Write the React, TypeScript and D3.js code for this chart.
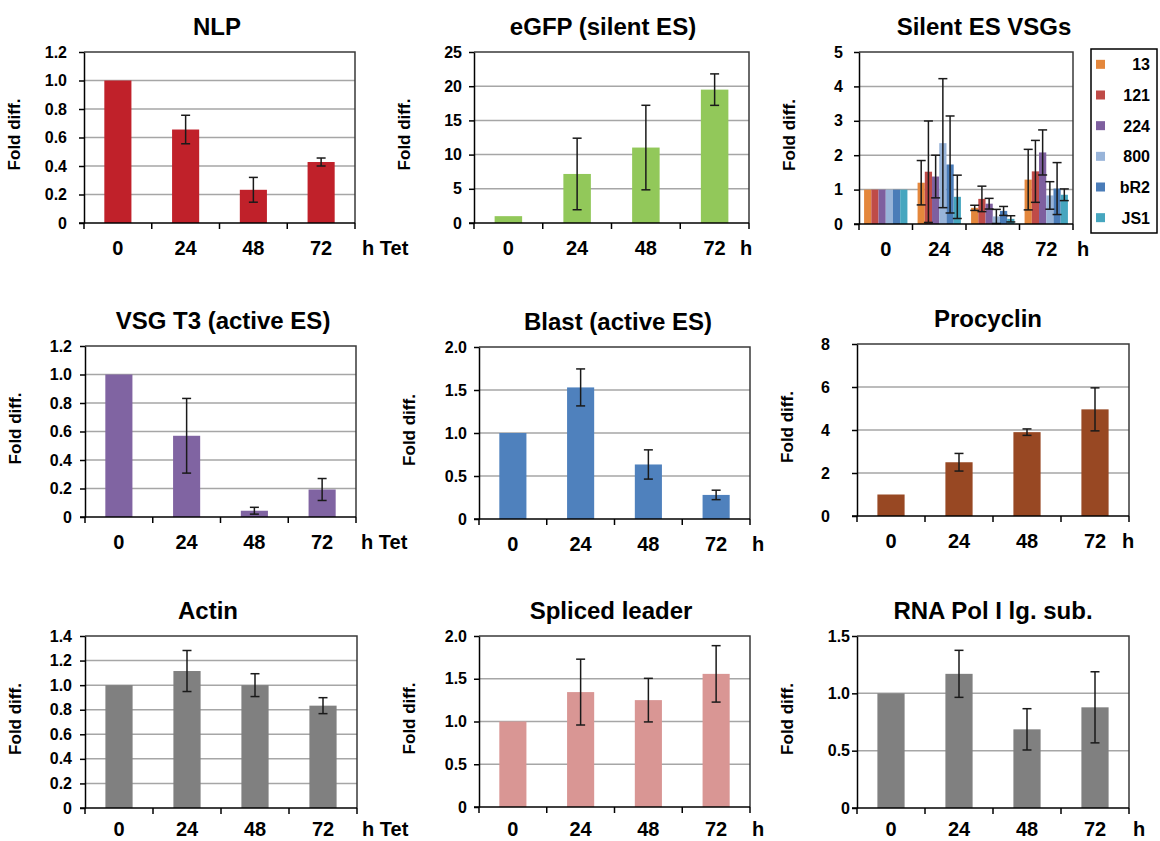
import React, { useEffect, useRef } from "react";
import * as d3 from "d3";

// hours after tet induction
const hours = ["0", "24", "48", "72"];

const nlpMean = [1.0, 0.656, 0.233, 0.428];
const nlpErr = [0, 0.1, 0.087, 0.028];

const egfpMean = [1.0, 7.17, 11.03, 19.5];
const egfpErr = [0, 5.23, 6.18, 2.3];

const t3Mean = [1.0, 0.57, 0.044, 0.193];
const t3Err = [0, 0.262, 0.024, 0.077];

const blastMean = [1.0, 1.53, 0.634, 0.28];
const blastErr = [0, 0.215, 0.17, 0.055];

const procMean = [1.0, 2.5, 3.9, 4.96];
const procErr = [0, 0.41, 0.15, 1.0];

const actinMean = [1.0, 1.115, 1.0, 0.833];
const actinErr = [0, 0.167, 0.093, 0.065];

const slMean = [1.0, 1.344, 1.25, 1.557];
const slErr = [0, 0.385, 0.255, 0.33];

const polMean = [1.0, 1.17, 0.686, 0.878];
const polErr = [0, 0.205, 0.18, 0.31];

// silent ES VSGs, one array per VSG
const vsgNames = ["13", "121", "224", "800", "bR2", "JS1"];
const vsgColors = ["#e4873c", "#bf4b48", "#7e5f9f", "#98b4d9", "#4a7cb8", "#46a6bf"];
const vsg13 = [1, 1.2, 0.47, 1.29];
const vsg13Err = [0, 0.645, 0.075, 0.88];
const vsg121 = [1, 1.52, 0.73, 1.53];
const vsg121Err = [0, 1.475, 0.37, 0.9];
const vsg224 = [1, 1.38, 0.59, 2.08];
const vsg224Err = [0, 0.62, 0.155, 0.655];
const vsg800 = [1, 2.35, 0.22, 0.83];
const vsg800Err = [0, 1.875, 0.205, 0.4];
const vsgbR2 = [1, 1.73, 0.38, 1.03];
const vsgbR2Err = [0, 1.41, 0.13, 0.755];
const vsgJS1 = [1, 0.79, 0.15, 0.85];
const vsgJS1Err = [0, 0.63, 0.09, 0.17];

const FONT = '"Liberation Sans", Arial, Helvetica, sans-serif';

const dec1 = (d: number) => (d === 0 ? "0" : d3.format(".1f")(d));
const int0 = (d: number) => d3.format("d")(d);

const panels = [
  { title: "NLP", series: [nlpMean], errs: [nlpErr], colors: ["#c0212a"], yMax: 1.2, step: 0.2, fmt: dec1,
    box: [84, 52, 271, 171], titleX: 217, unit: "h Tet", unitX: 362, gap: 12 },
  { title: "eGFP (silent ES)", series: [egfpMean], errs: [egfpErr], colors: ["#92c85a"], yMax: 25, step: 5, fmt: int0,
    box: [474, 52, 275, 171], titleX: 603, unit: "h", unitX: 740, gap: 7 },
  { title: "Silent ES VSGs", series: [vsg13, vsg121, vsg224, vsg800, vsgbR2, vsgJS1],
    errs: [vsg13Err, vsg121Err, vsg224Err, vsg800Err, vsgbR2Err, vsgJS1Err], colors: vsgColors,
    yMax: 5, step: 1, fmt: int0, box: [859, 52, 214, 172], titleX: 984, unit: "h", unitX: 1077, gap: 11 },
  { title: "VSG T3 (active ES)", series: [t3Mean], errs: [t3Err], colors: ["#8064a2"], yMax: 1.2, step: 0.2, fmt: dec1,
    box: [85, 346, 271, 171], titleX: 223, unit: "h Tet", unitX: 361, gap: 8 },
  { title: "Blast (active ES)", series: [blastMean], errs: [blastErr], colors: ["#4f81bd"], yMax: 2.0, step: 0.5, fmt: dec1,
    box: [479, 347, 271, 172], titleX: 618, unit: "h", unitX: 752, gap: 7 },
  { title: "Procyclin", series: [procMean], errs: [procErr], colors: ["#984823"], yMax: 8, step: 2, fmt: int0,
    box: [857, 344, 272, 172], titleX: 988, unit: "h", unitX: 1122, gap: 22 },
  { title: "Actin", series: [actinMean], errs: [actinErr], colors: ["#808080"], yMax: 1.4, step: 0.2, fmt: dec1,
    box: [85, 636, 272, 172], titleX: 208, unit: "h Tet", unitX: 362, gap: 8 },
  { title: "Spliced leader", series: [slMean], errs: [slErr], colors: ["#d99694"], yMax: 2.0, step: 0.5, fmt: dec1,
    box: [479, 636, 271, 171], titleX: 611, unit: "h", unitX: 752, gap: 7 },
  { title: "RNA Pol I lg. sub.", series: [polMean], errs: [polErr], colors: ["#808080"], yMax: 1.5, step: 0.5, fmt: dec1,
    box: [857, 636, 272, 172], titleX: 993, unit: "h", unitX: 1133, gap: 2 },
];

function drawPanel(svg: any, p: any) {
  const [x0, y0, w, h] = p.box;
  const g = svg.append("g").attr("transform", `translate(${x0},${y0})`);
  const ticks = d3.range(0, p.yMax + 1e-9, p.step);

  const y = d3.scaleLinear().domain([0, p.yMax]).range([h, 0]);
  const grouped = p.series.length > 1;
  const x = d3.scaleBand().domain(hours).range([0, w])
    .paddingInner(grouped ? 0.19 : 0.6).paddingOuter(grouped ? 0.095 : 0.3);
  const xs = d3.scaleBand().domain(d3.range(p.series.length).map(String)).range([0, x.bandwidth()]);
  const slots = d3.scaleLinear().domain([0, hours.length]).range([0, w]);

  // keep the bottom row's labels inside the page
  const labelY = Math.min(y0 + h + 32, 836) - y0;

  // gridlines
  g.selectAll(".grid")
    .data(ticks.filter((t: number) => t > 0 && t < p.yMax - 1e-9))
    .join("line")
    .attr("x1", 0).attr("x2", w)
    .attr("y1", (d: number) => y(d)).attr("y2", (d: number) => y(d))
    .attr("stroke", "#a6a6a6").attr("stroke-width", 1.5);

  // top and right frame
  g.append("path")
    .attr("d", `M0,${y(p.yMax)}H${w}V${h}`)
    .attr("fill", "none").attr("stroke", "#3a3a3a").attr("stroke-width", 1.5);

  // bars
  p.series.forEach((vals: number[], si: number) => {
    const bx = (i: number) => (x(hours[i]) as number) + (grouped ? (xs(String(si)) as number) : 0);
    const bw = grouped ? xs.bandwidth() : x.bandwidth();
    g.selectAll(null)
      .data(vals)
      .join("rect")
      .attr("x", (d: number, i: number) => bx(i))
      .attr("y", (d: number) => y(d))
      .attr("width", bw)
      .attr("height", (d: number) => y(0) - y(d))
      .attr("fill", p.colors[si]);
  });

  // error bars
  p.series.forEach((vals: number[], si: number) => {
    const bw = grouped ? xs.bandwidth() : x.bandwidth();
    const cx = (i: number) => (x(hours[i]) as number) + (grouped ? (xs(String(si)) as number) : 0) + bw / 2;
    const errs = p.errs[si];
    const eb = g.selectAll(null)
      .data(vals.map((v: number, i: number) => ({ v, e: errs[i], i })).filter((d: any) => d.e > 0))
      .join("g")
      .attr("stroke", "#1a1a1a").attr("stroke-width", 1.5);
    eb.append("line")
      .attr("x1", (d: any) => cx(d.i)).attr("x2", (d: any) => cx(d.i))
      .attr("y1", (d: any) => y(Math.max(0, d.v - d.e))).attr("y2", (d: any) => y(d.v + d.e));
    [-1, 1].forEach((s) => {
      eb.append("line")
        .attr("x1", (d: any) => cx(d.i) - 4.5).attr("x2", (d: any) => cx(d.i) + 4.5)
        .attr("y1", (d: any) => y(Math.max(0, d.v + s * d.e))).attr("y2", (d: any) => y(Math.max(0, d.v + s * d.e)));
    });
  });

  // y axis
  const yAxis = d3.axisLeft(y).tickValues(ticks).tickSize(5).tickSizeOuter(0)
    .tickPadding(p.gap).tickFormat(p.fmt);
  const ya = g.append("g").call(yAxis);
  ya.select(".domain").attr("stroke", "#000").attr("stroke-width", 1.5);
  ya.selectAll(".tick line").attr("stroke", "#000").attr("stroke-width", 1.5);
  ya.selectAll(".tick text")
    .attr("fill", "#000")
    .style("font-family", FONT).style("font-size", "16px").style("font-weight", "bold");

  // x axis with ticks at slot boundaries
  g.append("line").attr("x1", -5).attr("x2", w).attr("y1", h).attr("y2", h)
    .attr("stroke", "#000").attr("stroke-width", 1.5);
  g.selectAll(null)
    .data(d3.range(hours.length + 1))
    .join("line")
    .attr("x1", (d: number) => slots(d)).attr("x2", (d: number) => slots(d))
    .attr("y1", h).attr("y2", h + 6)
    .attr("stroke", "#000").attr("stroke-width", 1.5);

  // category labels
  g.selectAll(null)
    .data(hours)
    .join("text")
    .attr("x", (d: string) => (x(d) as number) + x.bandwidth() / 2)
    .attr("y", labelY)
    .attr("text-anchor", "middle")
    .style("font-family", FONT).style("font-size", "20px").style("font-weight", "bold")
    .text((d: string) => d);

  svg.append("text")
    .attr("x", p.unitX).attr("y", y0 + labelY)
    .style("font-family", FONT).style("font-size", "20px").style("font-weight", "bold")
    .attr("xml:space", "preserve")
    .text(p.unit);

  // title
  svg.append("text")
    .attr("x", p.titleX).attr("y", y0 - 17)
    .attr("text-anchor", "middle")
    .style("font-family", FONT).style("font-size", "24px").style("font-weight", "bold")
    .text(p.title);

  // y label
  const lx = x0 - 64;
  svg.append("text")
    .attr("transform", `translate(${lx},${y0 + h / 2 - 3}) rotate(-90)`)
    .attr("text-anchor", "middle")
    .style("font-family", FONT).style("font-size", "17px").style("font-weight", "bold")
    .text("Fold diff.");
}

function drawLegend(svg: any) {
  const lg = svg.append("g").attr("transform", "translate(1091,49)");
  lg.append("rect").attr("width", 66).attr("height", 184)
    .attr("fill", "#fff").attr("stroke", "#000").attr("stroke-width", 1.5);
  const row = d3.scaleBand().domain(vsgNames).range([0, 184]);
  const items = lg.selectAll(null).data(vsgNames).join("g")
    .attr("transform", (d: string) => `translate(0,${(row(d) as number) + row.bandwidth() / 2})`);
  items.append("rect").attr("x", 5).attr("y", -4.5).attr("width", 9).attr("height", 9)
    .attr("fill", (d: string, i: number) => vsgColors[i]);
  items.append("text").attr("x", 59).attr("y", 6)
    .attr("text-anchor", "end")
    .style("font-family", FONT).style("font-size", "16px").style("font-weight", "bold")
    .text((d: string) => d);
}

export default function App() {
  const ref = useRef<SVGSVGElement>(null);

  useEffect(() => {
    const svg = d3.select(ref.current);
    svg.selectAll("*").remove();
    panels.forEach((p) => drawPanel(svg, p));
    drawLegend(svg);
  }, []);

  return (
    <svg
      ref={ref}
      width={1160}
      height={841}
      style={{ position: "absolute", left: 0, top: 0, background: "#fff" }}
    />
  );
}
